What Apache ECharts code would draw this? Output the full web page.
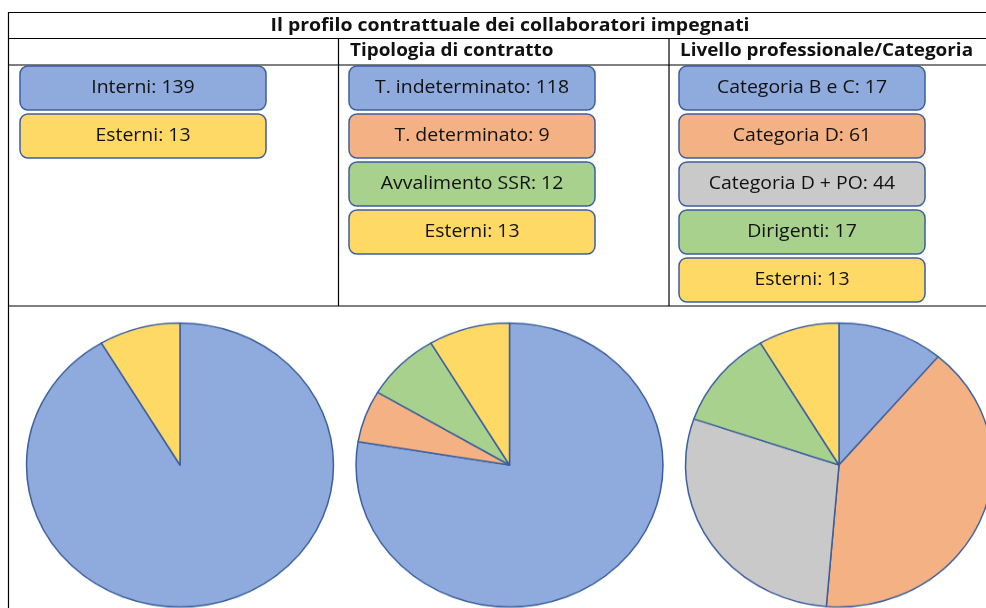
<!DOCTYPE html>
<html>
<head>
<meta charset="utf-8">
<script src="https://cdn.jsdelivr.net/npm/echarts@6/dist/echarts.min.js"></script>
<style>
  html, body { margin: 0; padding: 0; background: #fff; overflow: hidden; width: 986px; height: 608px; }
  .box { position: absolute; left: 0; top: 0; width: 986px; height: 608px; }
  /* il riferimento è leggermente schiacciato in verticale: torte ellittiche */
  #pies { height: 660px; transform: scaleY(0.925); transform-origin: 0 465px; }
</style>
</head>
<body>
<div id="chart" class="box"></div>
<div id="pies" class="box"></div>
<script>
const mainTitle = 'Il profilo contrattuale dei collaboratori impegnati'
const headers = ['', 'Tipologia di contratto', 'Livello professionale/Categoria']

const perProvenienzaNames = ['Interni', 'Esterni']
const perProvenienzaValues = [139, 13]

const perContrattoNames = ['T. indeterminato', 'T. determinato', 'Avvalimento SSR', 'Esterni']
const perContrattoValues = [118, 9, 12, 13]

const perCategoriaNames = ['Categoria B e C', 'Categoria D', 'Categoria D + PO', 'Dirigenti', 'Esterni']
const perCategoriaValues = [17, 61, 44, 17, 13]

// colori (stile Office)
const BLUE = '#8FAADC'
const ORANGE = '#F4B183'
const GREY = '#C9C9C9'
const GREEN = '#A9D18E'
const YELLOW = '#FFD966'
const EDGE = '#3B5F9E'
const FONT = '"Open Sans", "Noto Sans", sans-serif'
const STRETCH = 1.08 // testo un po' allargato come nel riferimento

const columns = [
  { names: perProvenienzaNames, values: perProvenienzaValues, colors: [BLUE, YELLOW], x: 20, cx: 180 },
  { names: perContrattoNames, values: perContrattoValues, colors: [BLUE, ORANGE, GREEN, YELLOW], x: 349, cx: 509.5 },
  { names: perCategoriaNames, values: perCategoriaValues, colors: [BLUE, ORANGE, GREY, GREEN, YELLOW], x: 679, cx: 839 }
]

const chart = echarts.init(document.getElementById('chart'))
const pies = echarts.init(document.getElementById('pies'))

// griglia della tabella
const line = (x1, y1, x2, y2) => ({
  type: 'line',
  shape: { x1, y1, x2, y2 },
  style: { stroke: '#000', lineWidth: 1.2 },
  silent: true
})

const text = (x, y, str, font, align) => ({
  type: 'text',
  x: x, y: y,
  scaleX: STRETCH,
  style: { text: str, font: font, fill: '#111', align: align, verticalAlign: 'middle' }
})

const graphics = [
  line(8, 12.5, 986, 12.5),
  line(8, 38.5, 986, 38.5),
  line(8, 65, 986, 65),
  line(8, 306, 986, 306),
  line(8.5, 12, 8.5, 608),
  line(338.5, 38, 338.5, 306),
  line(669, 38, 669, 306),
  text(510, 25.5, mainTitle, 'bold 18px ' + FONT, 'center')
]

headers.forEach((h, i) => {
  if (!h) return
  graphics.push(text(columns[i].x + 1, 51.5, h, 'bold 17.5px ' + FONT, 'left'))
})

// riquadri con le etichette
columns.forEach(col => {
  col.names.forEach((n, j) => {
    const y = 66 + j * 48
    graphics.push({
      type: 'rect',
      shape: { x: col.x, y: y, width: 246, height: 44, r: 8 },
      style: { fill: col.colors[j], stroke: EDGE, lineWidth: 1.5 }
    })
    graphics.push(text(col.x + 123, y + 22, n + ': ' + col.values[j], '18px ' + FONT, 'center'))
  })
})

chart.setOption({
  animation: false,
  graphic: graphics
})

pies.setOption({
  animation: false,
  series: columns.map(col => ({
    type: 'pie',
    center: [col.cx, 465],
    radius: 153.5,
    startAngle: 90,
    clockwise: true,
    silent: true,
    label: { show: false },
    labelLine: { show: false },
    itemStyle: { borderColor: EDGE, borderWidth: 1.5 },
    data: col.names.map((n, j) => ({ name: n, value: col.values[j], itemStyle: { color: col.colors[j] } }))
  }))
})
</script>
</body>
</html>
